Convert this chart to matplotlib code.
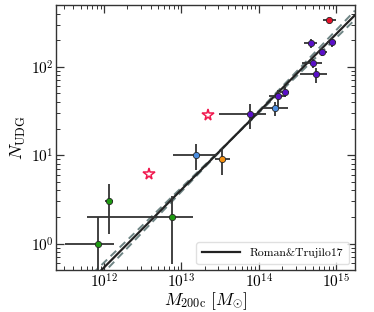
import numpy as np
import matplotlib
matplotlib.use('Agg')
import matplotlib.pyplot as plt

plt.rcParams['font.family'] = 'cmr10'
plt.rcParams['mathtext.fontset'] = 'cm'
plt.rcParams['axes.formatter.use_mathtext'] = True
plt.rcParams['axes.unicode_minus'] = False

# --- data ---
# purple points
m_pur = np.array([4.7e14, 8.8e14, 6.6e14, 5.0e14, 5.5e14, 2.16e14, 1.77e14, 7.7e13])
m_pur_lo = np.array([3.9e14, 7.7e14, 5.9e14, 3.6e14, 3.4e14, 1.87e14, 1.36e14, 3.1e13])
m_pur_hi = np.array([5.6e14, 1.0e15, 7.7e14, 6.6e14, 7.7e14, 2.46e14, 2.28e14, 1.23e14])
n_pur = np.array([184, 190, 148, 111, 82, 51.6, 46.5, 29.4])
n_pur_lo = np.array([165, 168, 132, 97.5, 65, 45.7, 35.3, 20])
n_pur_hi = np.array([204, 213, 164, 124, 96, 59.4, 55.3, 38.4])

# blue points
m_blu = np.array([1.6e14, 1.54e13])
m_blu_lo = np.array([1.14e14, 7.8e12])
m_blu_hi = np.array([2.39e14, 2.85e13])
n_blu = np.array([34, 10])
n_blu_lo = np.array([28, 6.8])
n_blu_hi = np.array([40, 13.3])

# orange point
m_org = np.array([3.3e13])
m_org_lo = np.array([2.7e13])
m_org_hi = np.array([4.3e13])
n_org = np.array([9.0])
n_org_lo = np.array([6.0])
n_org_hi = np.array([12.0])

# red point
m_red = np.array([8.2e14])
m_red_lo = np.array([6.8e14])
m_red_hi = np.array([9.9e14])
n_red = np.array([334])

# green points
m_grn = np.array([8.3e11, 1.16e12, 7.5e12])
m_grn_lo = np.array([3.1e11, 1.03e12, 6.1e11])
m_grn_hi = np.array([1.35e12, 1.32e12, 1.42e13])
n_grn = np.array([1.0, 3.0, 2.0])
n_grn_err = np.array([1.0, 1.73, 1.41])

# open stars
m_star = np.array([3.85e12, 2.2e13])
n_star = np.array([6.1, 28.3])

# Roman & Trujillo 17 relation: log N = a + b (log M - 14)
rt_a, rt_b = 1.49, 0.88
rt_db = 0.033
rt_pivot = 13.68

xlim = (2.4e11, 1.75e15)
ylim = (0.5, 500)


def ebar(ax, m, mlo, mhi, n, nlo, nhi, col):
    ax.errorbar(m, n, xerr=[m - mlo, mhi - m], yerr=[n - nlo, nhi - n],
                fmt='o', ms=4.5, mfc=col, mec='0.15', mew=0.6,
                ecolor='#333333', elinewidth=1.3, capsize=0, zorder=5)


fig = plt.figure(figsize=(3.74, 3.12), dpi=100)
ax = fig.add_axes([0.15, 0.134, 0.799, 0.85])

ax.set_xscale('log')
ax.set_yscale('log')

lm = np.linspace(np.log10(xlim[0]), np.log10(xlim[1]), 200)
ax.plot(10**lm, 10**(rt_a + rt_b*(lm - 14)), color='#222222', lw=1.6,
        zorder=3, label='Roman&Trujilo17')
for s in (-1, 1):
    lref = rt_a + rt_b*(rt_pivot - 14)
    ax.plot(10**lm, 10**(lref + (rt_b + s*rt_db)*(lm - rt_pivot)),
            color='#6f8585', lw=1.4, ls=(0, (4, 2.5)), zorder=2)

ebar(ax, m_grn, m_grn_lo, m_grn_hi, n_grn, n_grn - n_grn_err,
     n_grn + n_grn_err, '#1f9a12')
ebar(ax, m_blu, m_blu_lo, m_blu_hi, n_blu, n_blu_lo, n_blu_hi, '#4a8de0')
ebar(ax, m_org, m_org_lo, m_org_hi, n_org, n_org_lo, n_org_hi, '#f5900f')
ebar(ax, m_pur, m_pur_lo, m_pur_hi, n_pur, n_pur_lo, n_pur_hi, '#5a10c8')
ebar(ax, m_red, m_red_lo, m_red_hi, n_red, n_red, n_red, '#e8102a')

ax.plot(m_star, n_star, '*', ms=8.5, mfc='none', mec='#f0184e', mew=1.1,
        zorder=6)

ax.set_xlim(*xlim)
ax.set_ylim(*ylim)

ax.tick_params(which='both', direction='in', top=True, right=True,
               labelsize=11, color='0.2', pad=1.5)
ax.tick_params(which='major', length=6, width=0.9)
ax.tick_params(which='minor', length=3, width=0.7)
for sp in ax.spines.values():
    sp.set_color('0.2')
    sp.set_linewidth(1.0)

ax.set_xlabel(r'$M_{\rm 200c}\ [M_{\odot}]$', fontsize=12.5, labelpad=-0.5)
ax.set_ylabel(r'$N_{\rm UDG}$', fontsize=13, labelpad=2)

leg = ax.legend(loc='lower right', fontsize=8.5, handlelength=3.2,
                borderpad=0.5, frameon=True, fancybox=True)
leg.get_frame().set_edgecolor('0.85')

fig.savefig('out.png', dpi=100)
